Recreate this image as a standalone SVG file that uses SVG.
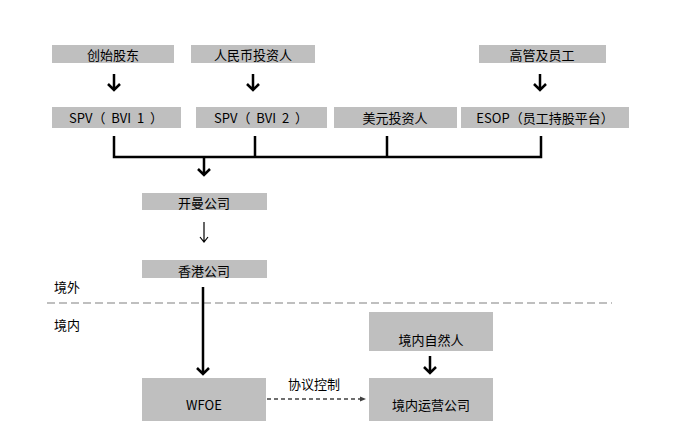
<svg xmlns="http://www.w3.org/2000/svg" width="697" height="429" viewBox="0 0 697 429">
<defs>
<style>
.box{fill:#BFBFBF;}
.t{font-family:"Noto Sans CJK SC","Liberation Sans",sans-serif;font-size:13px;fill:#000;text-anchor:middle;}
.l{font-family:"Noto Sans CJK SC","Liberation Sans",sans-serif;font-size:13px;fill:#000;}
.thick{fill:none;stroke:#000;stroke-width:2.5;}
.thin{fill:none;stroke:#000;stroke-width:1.2;}
</style>
</defs>
<rect width="697" height="429" fill="#fff"/>
<g id="n-founder"><rect class="box" x="52" y="45" width="122" height="18"/><text class="t" x="113" y="60">创始股东</text></g>
<g id="n-rmb"><rect class="box" x="191" y="45" width="124" height="18"/><text class="t" x="253" y="60">人民币投资人</text></g>
<g id="n-mgmt"><rect class="box" x="479" y="45" width="127" height="18"/><text class="t" x="542" y="60">高管及员工</text></g>
<g id="n-spv1"><rect class="box" x="52" y="107" width="129" height="21"/><text class="t" x="116" y="123">SPV（&#160;&#160;BVI&#160;&#160;1&#160;&#160;）</text></g>
<g id="n-spv2"><rect class="box" x="196" y="107" width="131" height="21"/><text class="t" x="261" y="123">SPV（&#160;&#160;BVI&#160;&#160;2&#160;&#160;）</text></g>
<g id="n-usd"><rect class="box" x="334" y="107" width="123" height="21"/><text class="t" x="395" y="123">美元投资人</text></g>
<g id="n-esop"><rect class="box" x="461" y="107" width="168" height="21"/><text class="t" x="545" y="123">ESOP（员工持股平台）</text></g>
<g id="n-cayman"><rect class="box" x="142" y="193" width="125" height="17"/><text class="t" x="204" y="208">开曼公司</text></g>
<g id="n-hk"><rect class="box" x="142" y="260" width="125" height="18"/><text class="t" x="204" y="276">香港公司</text></g>
<g id="n-wfoe"><rect class="box" x="142" y="378" width="124" height="43"/><text class="t" x="204" y="410">WFOE</text></g>
<g id="n-person"><rect class="box" x="369" y="312" width="124" height="39"/><text class="t" x="431" y="345">境内自然人</text></g>
<g id="n-opco"><rect class="box" x="369" y="378" width="124" height="43"/><text class="t" x="431" y="410">境内运营公司</text></g>
<g id="labels">
<text class="l" x="54" y="292">境外</text>
<text class="l" x="54" y="330">境内</text>
</g>
<line x1="47" y1="303" x2="612" y2="303" stroke="#808080" stroke-width="1.2" stroke-dasharray="8,4"/>
<g id="connectors">
<path class="thick" d="M114 74V90M108 84L114 90L120 84"/>
<path class="thick" d="M253 74V90M247 84L253 90L259 84"/>
<path class="thick" d="M540 74V90M534 84L540 90L546 84"/>
<path class="thick" d="M114 136V157H541V136M255 136V157M387 136V157"/>
<path class="thick" d="M204 157V175M198 169L204 175L210 169"/>
<path class="thin" d="M204 222V242M200 237L204 242L208 237"/>
<path class="thick" stroke-width="2" d="M203 287V374M197 368L203 374L209 368"/>
<path class="thick" d="M430 356V373M424 367L430 373L436 367"/>
<path fill="none" stroke="#404040" stroke-width="1.3" stroke-dasharray="4,3" d="M267 399H362"/>
<path fill="#404040" d="M366 399L360 396.5V401.5Z"/>
<text class="l" x="288" y="389">协议控制</text>
</g>
</svg>
